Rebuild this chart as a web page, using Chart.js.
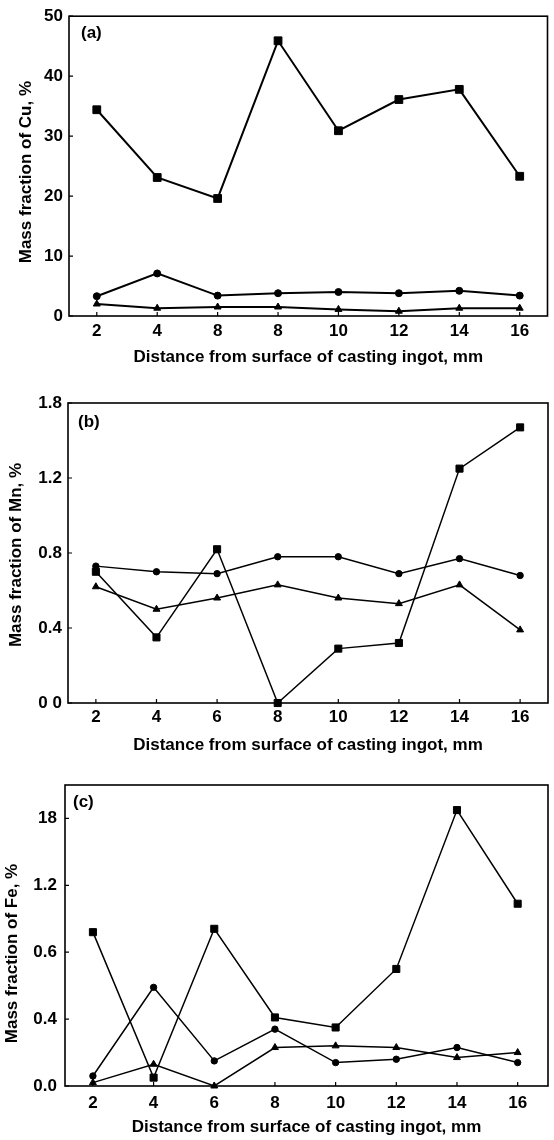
<!DOCTYPE html>
<html>
<head>
<meta charset="utf-8">
<script src="https://cdn.jsdelivr.net/npm/chart.js@4/dist/chart.umd.min.js"></script>
<style>
  body { margin: 0; background: #fff; }
  #wrap { position: relative; width: 554px; height: 1140px; background: #fff; }
  canvas { position: absolute; left: 0; }
</style>
</head>
<body>
<div id="wrap">
  <canvas id="chart_a" style="top:0px"></canvas>
  <canvas id="chart_b" style="top:380px"></canvas>
  <canvas id="chart_c" style="top:760px"></canvas>
</div>
<script>
//---------------------------------------
// Data
//---------------------------------------

const distance = [2, 4, 6, 8, 10, 12, 14, 16];

// (a) Cu
const cu_square   = [34.4, 23.1, 19.6, 45.9, 30.9, 36.1, 37.8, 23.3];
const cu_circle   = [3.3, 7.1, 3.4, 3.8, 4.0, 3.8, 4.2, 3.4];
const cu_triangle = [2.0, 1.3, 1.5, 1.5, 1.1, 0.8, 1.3, 1.3];

// (b) Mn
const mn_square   = [0.70, 0.35, 0.82, 0.00, 0.29, 0.32, 1.25, 1.47];
const mn_circle   = [0.73, 0.70, 0.69, 0.78, 0.78, 0.69, 0.77, 0.68];
const mn_triangle = [0.62, 0.50, 0.56, 0.63, 0.56, 0.53, 0.63, 0.39];

// (c) Fe
const fe_square   = [0.92, 0.05, 0.94, 0.41, 0.35, 0.70, 1.65, 1.09];
const fe_circle   = [0.06, 0.59, 0.15, 0.34, 0.14, 0.16, 0.23, 0.14];
const fe_triangle = [0.02, 0.13, 0.00, 0.23, 0.24, 0.23, 0.17, 0.20];

// tick labels (as printed)
const x_labels_a = ['2', '4', '8', '8', '10', '12', '14', '16'];
const x_labels_b = ['2', '4', '6', '8', '10', '12', '14', '16'];
const x_labels_c = ['2', '4', '6', '8', '10', '12', '14', '16'];

const y_ticks_a  = [0, 10, 20, 30, 40, 50];
const y_labels_a = ['0', '10', '20', '30', '40', '50'];
const y_ticks_b  = [0, 0.4, 0.8, 1.2, 1.6];
const y_labels_b = ['0 0', '0.4', '0.8', '1.2', '1.8'];
const y_ticks_c  = [0, 0.4, 0.8, 1.2, 1.6];
const y_labels_c = ['0.0', '0.4', '0.6', '1.2', '18'];

const x_title = 'Distance from surface of casting ingot, mm';

//---------------------------------------
// Plugin
//---------------------------------------

const FONT = '"Liberation Sans", Arial, sans-serif';

// frame, inward ticks, panel label, y title
const frame_plugin = {
  id: 'frame_plugin',
  afterDraw(chart, args, opts) {
    const ctx = chart.ctx;
    const a = chart.chartArea;
    const xs = chart.scales.x;
    const ys = chart.scales.y;
    ctx.save();
    ctx.strokeStyle = '#000';
    ctx.lineWidth = 1.6;
    ctx.strokeRect(a.left, a.top, a.right - a.left, a.bottom - a.top);

    ctx.lineWidth = 1.2;
    ctx.beginPath();
    xs.ticks.forEach(t => {
      const px = xs.getPixelForValue(t.value);
      ctx.moveTo(px, a.bottom);
      ctx.lineTo(px, a.bottom - 4);
    });
    ys.ticks.forEach(t => {
      const py = ys.getPixelForValue(t.value);
      ctx.moveTo(a.left, py);
      ctx.lineTo(a.left + 4, py);
    });
    ctx.stroke();

    ctx.fillStyle = '#000';
    ctx.font = 'bold 17px ' + FONT;
    ctx.textBaseline = 'middle';
    ctx.textAlign = 'left';
    ctx.fillText(opts.panel, a.left + opts.panel_dx, a.top + opts.panel_dy);

    ctx.translate(opts.title_x, (a.top + a.bottom) / 2 + opts.title_dy);
    ctx.rotate(-Math.PI / 2);
    ctx.textAlign = 'center';
    ctx.fillText(opts.title, 0, 0);
    ctx.restore();
  }
};

//---------------------------------------
// Chart
//---------------------------------------

function make_dataset(data, style, radius, width) {
  return {
    data: distance.map((d, i) => ({x: d, y: data[i]})),
    borderColor: '#000',
    backgroundColor: '#000',
    borderWidth: width,
    pointStyle: style,
    pointRadius: radius,
    pointBackgroundColor: '#000',
    pointBorderColor: '#000',
    pointBorderWidth: 1,
    tension: 0,
    clip: false
  };
}

function draw_panel(canvas_id, p) {
  const canvas = document.getElementById(canvas_id);
  canvas.width = 554;
  canvas.height = p.height;

  new Chart(canvas, {
    type: 'line',
    data: {
      datasets: [
        make_dataset(p.square, 'rect', p.sq_r, p.lw),
        make_dataset(p.circle, 'circle', p.ci_r, p.lw),
        make_dataset(p.triangle, 'triangle', p.tr_r, p.lw)
      ]
    },
    options: {
      responsive: false,
      animation: false,
      events: [],
      layout: { padding: { top: p.pad_top, right: p.pad_right, left: 0, bottom: 0 } },
      plugins: {
        legend: { display: false },
        tooltip: { enabled: false },
        frame_plugin: {
          panel: p.panel, panel_dx: p.panel_dx, panel_dy: p.panel_dy,
          title: p.y_title, title_x: p.title_x, title_dy: p.title_dy
        }
      },
      scales: {
        x: {
          type: 'linear',
          min: 1.08,
          max: p.x_max,
          afterBuildTicks: s => { s.ticks = distance.map(v => ({value: v})); },
          afterFit: s => { s.height = p.x_height; },
          grid: { display: false, drawTicks: false },
          border: { display: false },
          ticks: {
            color: '#000',
            padding: p.x_pad,
            maxRotation: 0,
            font: { family: FONT, size: 17, weight: 'bold' },
            callback: (v, i) => p.x_labels[i]
          },
          title: {
            display: true,
            text: x_title,
            color: '#000',
            padding: { top: 0, bottom: p.title_pad },
            font: { family: FONT, size: 17, weight: 'bold' }
          }
        },
        y: {
          min: 0,
          max: p.y_max,
          afterBuildTicks: s => { s.ticks = p.y_ticks.map(v => ({value: v})); },
          afterFit: s => { s.width = p.y_width; },
          grid: { display: false, drawTicks: false },
          border: { display: false },
          ticks: {
            color: '#000',
            padding: p.y_pad,
            font: { family: FONT, size: 17, weight: 'bold' },
            callback: (v, i) => p.y_labels[i]
          }
        }
      }
    },
    plugins: [frame_plugin]
  });
}

draw_panel('chart_a', {
  height: 371, pad_top: 16, pad_right: 1, y_width: 69, x_height: 55,
  x_max: 16.92, y_max: 50, x_pad: 5, y_pad: 6, title_pad: 3,
  square: cu_square, circle: cu_circle, triangle: cu_triangle,
  sq_r: 5.5, ci_r: 3.5, tr_r: 4, lw: 2,
  x_labels: x_labels_a, y_ticks: y_ticks_a, y_labels: y_labels_a,
  panel: '(a)', panel_dx: 12, panel_dy: 17,
  y_title: 'Mass fraction of Cu, %', title_x: 26, title_dy: 6
});

draw_panel('chart_b', {
  height: 379, pad_top: 23, pad_right: 5, y_width: 68, x_height: 56,
  x_max: 16.92, y_max: 1.6, x_pad: 4, y_pad: 6, title_pad: 3,
  square: mn_square, circle: mn_circle, triangle: mn_triangle,
  sq_r: 5, ci_r: 3.2, tr_r: 4, lw: 1.5,
  x_labels: x_labels_b, y_ticks: y_ticks_b, y_labels: y_labels_b,
  panel: '(b)', panel_dx: 10, panel_dy: 19,
  y_title: 'Mass fraction of Mn, %', title_x: 16, title_dy: 2
});

draw_panel('chart_c', {
  height: 380, pad_top: 25, pad_right: 6, y_width: 65, x_height: 54,
  x_max: 17.0, y_max: 1.8, x_pad: 7, y_pad: 8, title_pad: 2,
  square: fe_square, circle: fe_circle, triangle: fe_triangle,
  sq_r: 5, ci_r: 3.2, tr_r: 4, lw: 1.5,
  x_labels: x_labels_c, y_ticks: y_ticks_c, y_labels: y_labels_c,
  panel: '(c)', panel_dx: 8, panel_dy: 17,
  y_title: 'Mass fraction of Fe, %', title_x: 12, title_dy: 18
});
</script>
</body>
</html>
